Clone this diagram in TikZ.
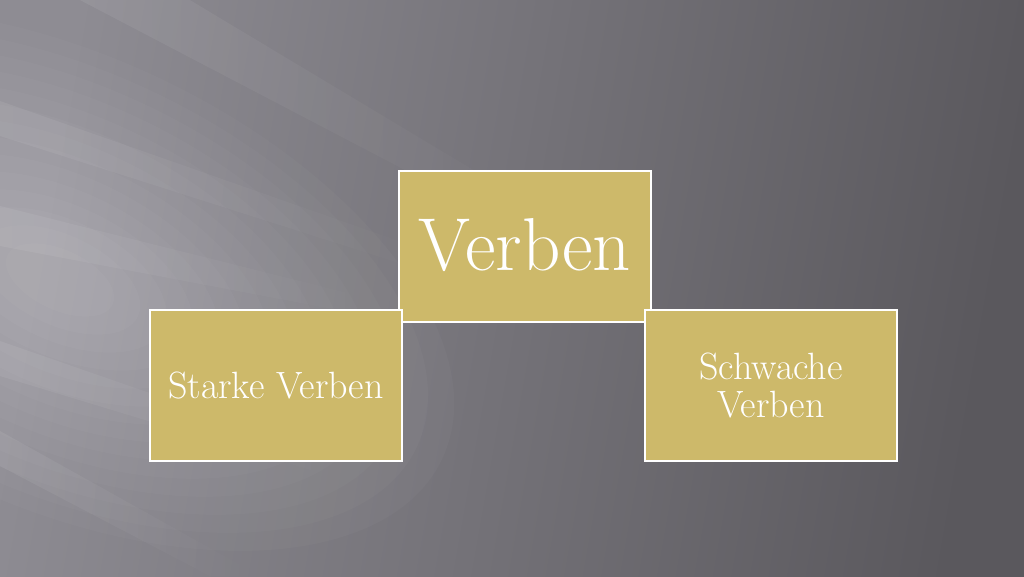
\documentclass[tikz,border=0pt]{standalone}
\usepackage{fix-cm}
\definecolor{gold}{HTML}{CDB96A}
\definecolor{bgLeft}{HTML}{8E8C93}
\definecolor{bgMid}{HTML}{6C6A70}
\definecolor{bgRight}{HTML}{5A585D}
\usetikzlibrary{fadings}
\tikzset{
  box/.style={draw=white, line width=1.5pt, fill=gold, text=white,
    minimum width=252pt, minimum height=151pt, inner sep=0pt, align=center},
  streak/.style={fill=white, fill opacity=0.07, draw=none, path fading=east}
}
\begin{document}
\begin{tikzpicture}[x=1pt,y=1pt]
\useasboundingbox (0,0) rectangle (1024,576);
\shade[left color=bgLeft, middle color=bgMid, right color=bgRight, shading angle=80] (0,0) rectangle (1024,576);
\begin{scope}
\clip (0,0) rectangle (1024,576);
% glow on the left
\foreach \i in {1,...,14}
  \fill[white, opacity=0.022, rotate around={-25:(60,296)}] (60,296) ellipse ({30+28*\i} and {15+15*\i});
\end{scope}
% soft light streaks
\fill[streak] (80,576) -- (190,576) -- (600,330) -- (560,325) -- cycle;
\fill[streak] (0,440) -- (0,475) -- (470,310) -- (440,300) -- cycle;
\fill[streak] (0,330) -- (0,370) -- (400,270) -- (380,258) -- cycle;
\fill[streak] (0,200) -- (0,235) -- (360,110) -- (330,100) -- cycle;
\fill[streak] (0,110) -- (0,145) -- (260,0) -- (210,0) -- cycle;

\node[box, font=\fontsize{75}{80}\selectfont] (verben) at (525,329.5) {\raisebox{5pt}{Verben}};
\node[box, font=\fontsize{38}{38}\selectfont] (starke) at (276,190.5) {Starke Verben};
\node[box, font=\fontsize{38}{38}\selectfont] (schwache) at (771,190.5) {Schwache\\Verben};
\end{tikzpicture}
\end{document}
